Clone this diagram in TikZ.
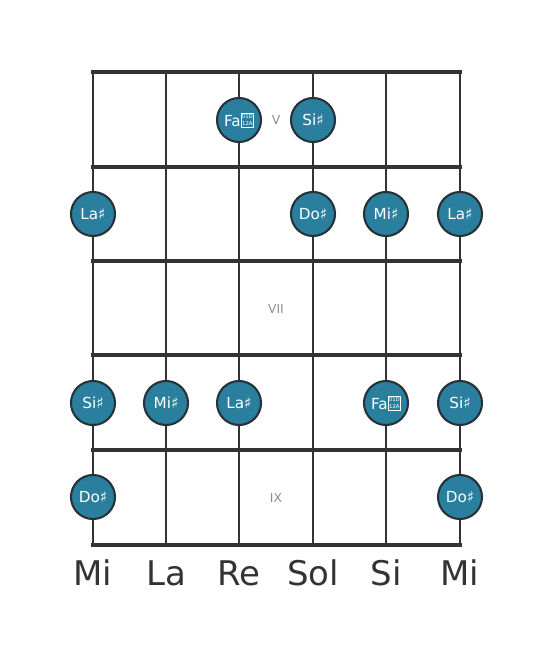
\documentclass[tikz,border=0pt]{standalone}
\usepackage{fontspec}
\setmainfont{DejaVu Sans}
\usetikzlibrary{positioning}
\definecolor{boardgray}{RGB}{51,51,51}
\definecolor{notefill}{RGB}{42,127,158}
\definecolor{noteline}{RGB}{38,50,56}
\definecolor{fretlabel}{RGB}{140,140,140}
% missing glyph box, as the picture prints it
\newcommand{\Tofu}{{\setlength{\fboxsep}{0.5pt}\setlength{\fboxrule}{0.4pt}%
  \raisebox{0.1ex}{\fbox{\fontsize{4.6}{5.6}\selectfont\shortstack{01D\\[0.3pt]12A}}}}}
\newcommand{\Sh}[1]{#1♯}
\tikzset{
    note/.style={circle, fill=notefill, draw=noteline, line width=1.8pt,
      minimum size=1.32cm, inner sep=0pt, text=white,
      font=\fontsize{13}{14}\selectfont},
    fretnum/.style={text=fretlabel, font=\fontsize{10.5}{11}\selectfont},
    tuning/.style={text=boardgray, font=\fontsize{29}{30}\selectfont},
    fretline/.style={draw=boardgray, line width=3.4pt},
    stringline/.style={draw=boardgray, line width=2.3pt},
}
\begin{document}
\begin{tikzpicture}[x=0.03cm, y=-0.03cm]
    \useasboundingbox (0,0) rectangle (553,656);

    % strings
    \foreach \s/\x in {1/93, 2/166, 3/239, 4/313, 5/386, 6/460} {
      \coordinate (s\s t) at (\x,72);
      \coordinate (s\s b) at (\x,545);
      \draw[stringline] (s\s t) -- (s\s b);
    }
    % frets
    \foreach \f/\y in {4/72, 5/167, 6/261, 7/355, 8/450, 9/545} {
      \coordinate (f\f l) at (93,\y);
      \coordinate (f\f r) at (460,\y);
      \draw[fretline, line cap=rect] (f\f l) -- (f\f r);
    }

    \node[fretnum] (v) at (276,120) {V};
    \node[fretnum] (vii) at (276,309) {VII};
    \node[fretnum] (ix) at (276,498) {IX};

    % fret 5
    \node[note] (n5s3) at (239,120) {Fa\Tofu};
    \node[note] (n5s4) at (313,120) {\Sh{Si}};
    % fret 6
    \node[note] (n6s1) at (93,214) {\Sh{La}};
    \node[note] (n6s4) at (313,214) {\Sh{Do}};
    \node[note] (n6s5) at (386,214) {\Sh{Mi}};
    \node[note] (n6s6) at (460,214) {\Sh{La}};
    % fret 8
    \node[note] (n8s1) at (93,403) {\Sh{Si}};
    \node[note] (n8s2) at (166,403) {\Sh{Mi}};
    \node[note] (n8s3) at (239,403) {\Sh{La}};
    \node[note] (n8s5) at (386,403) {Fa\Tofu};
    \node[note] (n8s6) at (460,403) {\Sh{Si}};
    % fret 9
    \node[note] (n9s1) at (93,497) {\Sh{Do}};
    \node[note] (n9s6) at (460,497) {\Sh{Do}};

    % open strings
    \foreach \s/\x/\name in {1/93/Mi, 2/166/La, 3/239/Re, 4/313/Sol, 5/386/Si, 6/460/Mi}
      \node[tuning] (t\s) at (\x,573) {\name};
\end{tikzpicture}
\end{document}
